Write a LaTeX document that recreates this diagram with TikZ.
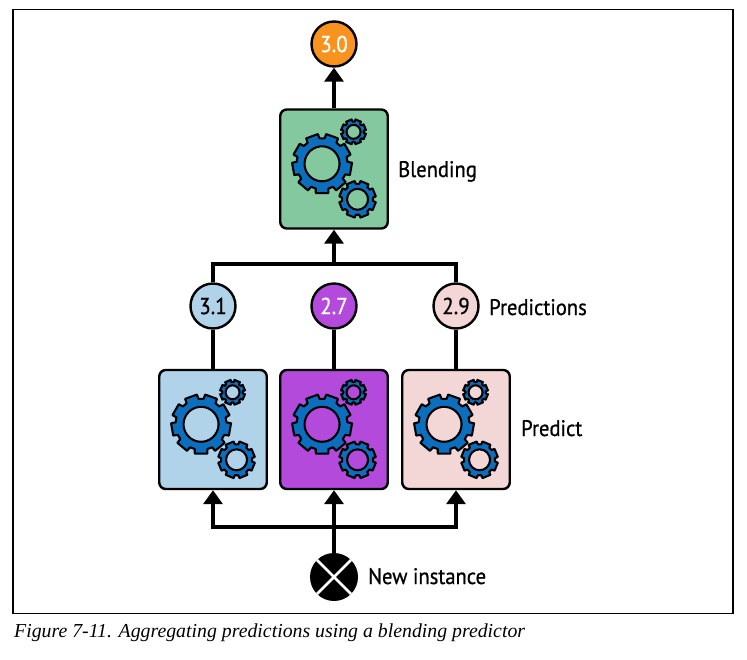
\documentclass[tikz,border=0pt]{standalone}
\usepackage{fontspec}
\setmainfont{Liberation Serif}
\newfontfamily\labelfont[FakeStretch=0.915,FakeBold=0.8]{PT Sans}
\usetikzlibrary{arrows.meta}
\definecolor{bgreen}{HTML}{84C8A0}
\definecolor{bblue}{HTML}{B0D3EA}
\definecolor{bpurple}{HTML}{B44ADB}
\definecolor{bpink}{HTML}{F3D6D6}
\definecolor{borange}{HTML}{F8931F}
\definecolor{gearblue}{HTML}{0B6FBE}
\tikzset{
  modelbox/.style={draw=black,line width=2.4pt,rounded corners=6.5pt,minimum width=107.5pt,minimum height=119pt,inner sep=0pt},
  valuecirc/.style={draw=black,line width=2.4pt,circle,minimum size=45pt,inner sep=0pt,font=\labelfont\fontsize{23}{23}\selectfont},
  lab/.style={font=\labelfont\fontsize{22.5}{22.5}\selectfont,anchor=base west,inner sep=0pt},
  conn/.style={line width=4.4pt,black},
  arr/.style={conn,-{Triangle[width=19pt,length=14pt]}},
  gearshape/.style={draw=black,line width=2.1pt,fill=gearblue,even odd rule,line join=round}
}
\newcommand{\gearat}[7]{%
  \begin{scope}[shift={(#1,#2)},rotate=#7]
  \path[gearshape] (-0.36*360/#6:#4)
   \foreach \gi in {1,...,#6}{
     -- ({(\gi-1)*360/#6-0.30*360/#6}:#3)
     -- ({(\gi-1)*360/#6+0.30*360/#6}:#3)
     -- ({(\gi-1)*360/#6+0.36*360/#6}:#4)
     -- ({(\gi-1)*360/#6+0.64*360/#6}:#4)
   } -- cycle
   (0,0) circle[radius=#5];
  \end{scope}}
\newcommand{\gearset}[1]{%
  \begin{scope}[shift={(#1.north west)}]
    \gearat{43}{55.5}{30}{25.5}{17.5}{9}{30}
    \gearat{74.5}{23.5}{12.5}{10.3}{7}{8}{22.5}
    \gearat{78.5}{91}{18.5}{15.5}{10.5}{8}{22.5}
  \end{scope}}
\begin{document}
\begin{tikzpicture}[x=1pt,y=-1pt]
\useasboundingbox (0,0) rectangle (747,659);
\node[draw=black,line width=1.3pt,minimum width=720pt,minimum height=603.5pt,inner sep=0pt] (frame) at (373,311.5) {};

\node[modelbox,fill=bgreen] (blend) at (334,169) {};
\node[modelbox,fill=bblue] (pa) at (213,429.5) {};
\node[modelbox,fill=bpurple] (pb) at (334,429.5) {};
\node[modelbox,fill=bpink] (pc) at (456,429.5) {};
\gearset{blend}\gearset{pa}\gearset{pb}\gearset{pc}

\node[valuecirc,fill=borange,text=white] (out) at (334,44) {3.0};
\node[valuecirc,fill=bblue] (va) at (213,306) {3.1};
\node[valuecirc,fill=bpurple,text=white] (vb) at (334,306) {2.7};
\node[valuecirc,fill=bpink] (vc) at (456,306) {2.9};

\node[circle,fill=black,minimum size=48pt,inner sep=0pt] (inst) at (334,577) {};
\draw[white,line width=2.8pt] (inst.north west) -- (inst.south east);
\draw[white,line width=2.8pt] (inst.north east) -- (inst.south west);

\coordinate (upbus) at (334,264);
\coordinate (lowbus) at (334,527);

\draw[arr] (blend.north) -- (out.south);
\draw[conn] (va.north) |- (upbus);
\draw[conn] (vc.north) |- (upbus);
\draw[arr] (upbus) -- (blend.south);
\draw[conn] (pa.north) -- (va.south);
\draw[conn] (pb.north) -- (vb.south);
\draw[conn] (pc.north) -- (vc.south);
\draw[arr] (inst.north) -- (pb.south);
\draw[arr] (lowbus) -| (pa.south);
\draw[arr] (lowbus) -| (pc.south);

\node[lab] (tblend) at (398,177) {Blending};
\node[lab] (tpred) at (489,315) {Predictions};
\node[lab] (tpredict) at (521,436) {Predict};
\node[lab] (tnew) at (368,584) {New instance};
\node[anchor=base west,inner sep=0pt,font=\itshape\fontsize{19.8}{19.8}\selectfont] (cap) at (14,637) {Figure 7-11. Aggregating predictions using a blending predictor};
\end{tikzpicture}
\end{document}
